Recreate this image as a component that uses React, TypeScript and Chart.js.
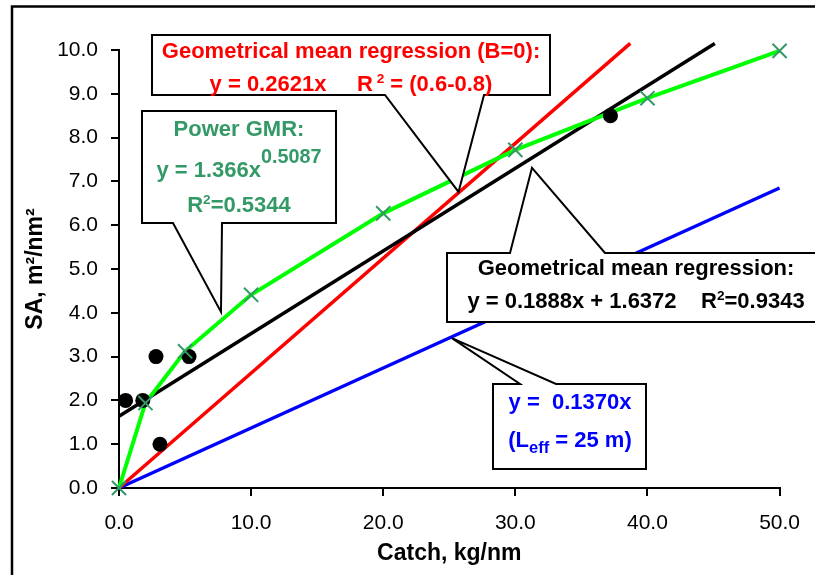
import React, { useEffect, useRef } from 'react';
import { Chart, registerables } from 'chart.js';

Chart.register(...registerables);

// ---- axis ticks ----
const xTicks = [0, 10, 20, 30, 40, 50];
const yTicks = [0, 1, 2, 3, 4, 5, 6, 7, 8, 9, 10];

// ---- power GMR curve (markers at sampled catches) ----
const powerX = [0, 2, 5, 10, 20, 30, 40, 50];
const powerY = [0, 1.94, 3.12, 4.41, 6.27, 7.72, 8.9, 9.98];

// ---- observations ----
const obsX = [0.5, 1.8, 2.8, 3.1, 5.3, 37.2];
const obsY = [2.0, 2.0, 3.0, 1.0, 3.0, 8.5];

// ---- regression lines (end points) ----
const gmrX = [0, 45.1];
const gmrY = [1.64, 10.15];
const gmr0X = [0, 38.7];
const gmr0Y = [0, 10.15];
const leffX = [0, 50];
const leffY = [0, 6.85];

const FONT = '"Liberation Sans", Arial, Helvetica, sans-serif';

type Seg = { t: string; scale?: number; rise?: number };
type Line = { base: number; segs: Seg[] };
type Callout = {
  color: string;
  box: [number, number, number, number];
  cx: number;
  wedge: { side: 'top' | 'bottom'; a: number; b: number };
  tip: [number, number];
  lines: Line[];
};

const callouts: Callout[] = [
  {
    color: '#FF0000',
    box: [152, 35, 550, 95],
    cx: 351,
    wedge: { side: 'bottom', a: 385, b: 484 },
    tip: [25.7, 6.76],
    lines: [
      { base: 23, segs: [{ t: 'Geometrical mean regression (B=0):' }] },
      {
        base: 56,
        segs: [
          { t: 'y = 0.2621x     R' },
          { t: ' 2', scale: 0.62, rise: 8 },
          { t: ' = (0.6-0.8)' },
        ],
      },
    ],
  },
  {
    color: '#339966',
    box: [142, 111, 336, 223],
    cx: 239,
    wedge: { side: 'bottom', a: 173, b: 222 },
    tip: [7.72, 4.02],
    lines: [
      { base: 25, segs: [{ t: 'Power GMR:' }] },
      {
        base: 66,
        segs: [{ t: 'y = 1.366x' }, { t: '0.5087', scale: 0.9, rise: 14 }],
      },
      {
        base: 101,
        segs: [{ t: 'R' }, { t: '2', scale: 0.62, rise: 8 }, { t: '=0.5344' }],
      },
    ],
  },
  {
    color: '#000000',
    box: [447, 253, 825, 322],
    cx: 636,
    wedge: { side: 'top', a: 510, b: 605 },
    tip: [31.26, 7.31],
    lines: [
      { base: 22, segs: [{ t: 'Geometrical mean regression:' }] },
      {
        base: 55,
        segs: [
          { t: 'y = 0.1888x + 1.6372    R' },
          { t: '2', scale: 0.62, rise: 8 },
          { t: '=0.9343' },
        ],
      },
    ],
  },
  {
    color: '#0000FF',
    box: [493, 384, 646, 469],
    cx: 570,
    wedge: { side: 'top', a: 520, b: 556 },
    tip: [25.2, 3.42],
    lines: [
      { base: 25, segs: [{ t: 'y =  0.1370x' }] },
      {
        base: 63,
        segs: [{ t: '(L' }, { t: 'eff', scale: 0.75, rise: -6 }, { t: ' = 25 m)' }],
      },
    ],
  },
];

const CALLOUT_SIZE = 22;

const framePlugin = {
  id: 'frame',
  beforeDraw(chart: any) {
    const ctx = chart.ctx as CanvasRenderingContext2D;
    ctx.save();
    ctx.fillStyle = '#ffffff';
    ctx.fillRect(0, 0, chart.width, chart.height);
    ctx.strokeStyle = '#000000';
    ctx.lineWidth = 2.5;
    ctx.strokeRect(12, 6.5, 900, 700);
    ctx.restore();
  },
};

const calloutPlugin = {
  id: 'callouts',
  afterDraw(chart: any) {
    const ctx = chart.ctx as CanvasRenderingContext2D;
    const xs = chart.scales.x;
    const ys = chart.scales.y;
    for (const c of callouts) {
      const [x0, y0, x1, y1] = c.box;
      const tx = xs.getPixelForValue(c.tip[0]);
      const ty = ys.getPixelForValue(c.tip[1]);
      ctx.save();
      ctx.beginPath();
      ctx.moveTo(x0, y0);
      if (c.wedge.side === 'top') {
        ctx.lineTo(c.wedge.a, y0);
        ctx.lineTo(tx, ty);
        ctx.lineTo(c.wedge.b, y0);
      }
      ctx.lineTo(x1, y0);
      ctx.lineTo(x1, y1);
      if (c.wedge.side === 'bottom') {
        ctx.lineTo(c.wedge.b, y1);
        ctx.lineTo(tx, ty);
        ctx.lineTo(c.wedge.a, y1);
      }
      ctx.lineTo(x0, y1);
      ctx.closePath();
      ctx.fillStyle = '#ffffff';
      ctx.fill();
      ctx.lineWidth = 2;
      ctx.strokeStyle = '#000000';
      ctx.lineJoin = 'miter';
      ctx.stroke();

      ctx.fillStyle = c.color;
      ctx.textBaseline = 'alphabetic';
      ctx.textAlign = 'left';
      for (const ln of c.lines) {
        let w = 0;
        for (const s of ln.segs) {
          ctx.font = `bold ${CALLOUT_SIZE * (s.scale ?? 1)}px ${FONT}`;
          w += ctx.measureText(s.t).width;
        }
        let x = c.cx - w / 2;
        const base = y0 + ln.base;
        for (const s of ln.segs) {
          ctx.font = `bold ${CALLOUT_SIZE * (s.scale ?? 1)}px ${FONT}`;
          ctx.fillText(s.t, x, base - (s.rise ?? 0));
          x += ctx.measureText(s.t).width;
        }
      }
      ctx.restore();
    }
  },
};

const pts = (xs: number[], ys: number[]) => xs.map((x, i) => ({ x, y: ys[i] }));

export default function App() {
  const ref = useRef<HTMLCanvasElement>(null);

  useEffect(() => {
    if (!ref.current) return;
    const tickFont = { family: FONT, size: 21 };
    const chart = new Chart(ref.current, {
      type: 'scatter',
      data: {
        datasets: [
          {
            label: 'Power GMR markers',
            data: pts(powerX, powerY),
            showLine: false,
            pointStyle: 'crossRot',
            pointRadius: 10,
            pointBorderWidth: 2,
            pointBorderColor: '#339966',
            pointBackgroundColor: '#339966',
            clip: false,
          },
          {
            label: 'Observations',
            data: pts(obsX, obsY),
            showLine: false,
            pointStyle: 'circle',
            pointRadius: 7.5,
            pointBorderWidth: 0,
            pointBackgroundColor: '#000000',
            pointBorderColor: '#000000',
            clip: false,
          },
          {
            label: 'Power GMR',
            data: pts(powerX, powerY),
            showLine: true,
            borderColor: '#00FF00',
            borderWidth: 4,
            pointRadius: 0,
            tension: 0,
            clip: false,
          },
          {
            label: 'GMR',
            data: pts(gmrX, gmrY),
            showLine: true,
            borderColor: '#000000',
            borderWidth: 3.5,
            pointRadius: 0,
            clip: false,
          },
          {
            label: 'GMR B=0',
            data: pts(gmr0X, gmr0Y),
            showLine: true,
            borderColor: '#FF0000',
            borderWidth: 3.5,
            pointRadius: 0,
            clip: false,
          },
          {
            label: 'Leff',
            data: pts(leffX, leffY),
            showLine: true,
            borderColor: '#0000FF',
            borderWidth: 3.5,
            pointRadius: 0,
            clip: false,
          },
        ],
      },
      options: {
        responsive: false,
        animation: false,
        events: [],
        layout: { padding: { left: 0, top: 50, right: 29, bottom: 0 } },
        plugins: {
          legend: { display: false },
          tooltip: { enabled: false },
          title: { display: false },
        },
        scales: {
          x: {
            type: 'linear',
            min: 0,
            max: 50,
            afterBuildTicks: (s: any) => {
              s.ticks = xTicks.map((v) => ({ value: v }));
            },
            afterFit: (s: any) => {
              s.height = 87;
            },
            ticks: {
              color: '#000000',
              font: tickFont,
              padding: 15,
              maxRotation: 0,
              callback: (v: any) => Number(v).toFixed(1),
            },
            grid: {
              drawOnChartArea: false,
              drawTicks: true,
              tickLength: 8,
              color: '#000000',
              lineWidth: 2,
            },
            border: { display: true, color: '#000000', width: 2 },
            title: {
              display: true,
              text: 'Catch, kg/nm',
              color: '#000000',
              font: { family: FONT, size: 23, weight: 'bold' },
              padding: { top: 0, bottom: 8 },
            },
          },
          y: {
            type: 'linear',
            min: 0,
            max: 10,
            afterBuildTicks: (s: any) => {
              s.ticks = yTicks.map((v) => ({ value: v }));
            },
            afterFit: (s: any) => {
              s.width = 119;
            },
            ticks: {
              color: '#000000',
              font: tickFont,
              padding: 13,
              callback: (v: any) => Number(v).toFixed(1),
            },
            grid: {
              drawOnChartArea: false,
              drawTicks: true,
              tickLength: 8,
              color: '#000000',
              lineWidth: 2,
            },
            border: { display: true, color: '#000000', width: 2 },
            title: {
              display: true,
              text: 'SA, m²/nm²',
              color: '#000000',
              font: { family: FONT, size: 23, weight: 'bold' },
              padding: { top: 22, bottom: 0 },
            },
          },
        },
      },
      plugins: [framePlugin, calloutPlugin],
    } as any);
    return () => chart.destroy();
  }, []);

  return (
    <div
      style={{
        position: 'fixed',
        left: 0,
        top: 0,
        width: 815,
        height: 575,
        background: '#ffffff',
      }}
    >
      <canvas ref={ref} width={815} height={575} style={{ display: 'block' }} />
    </div>
  );
}
